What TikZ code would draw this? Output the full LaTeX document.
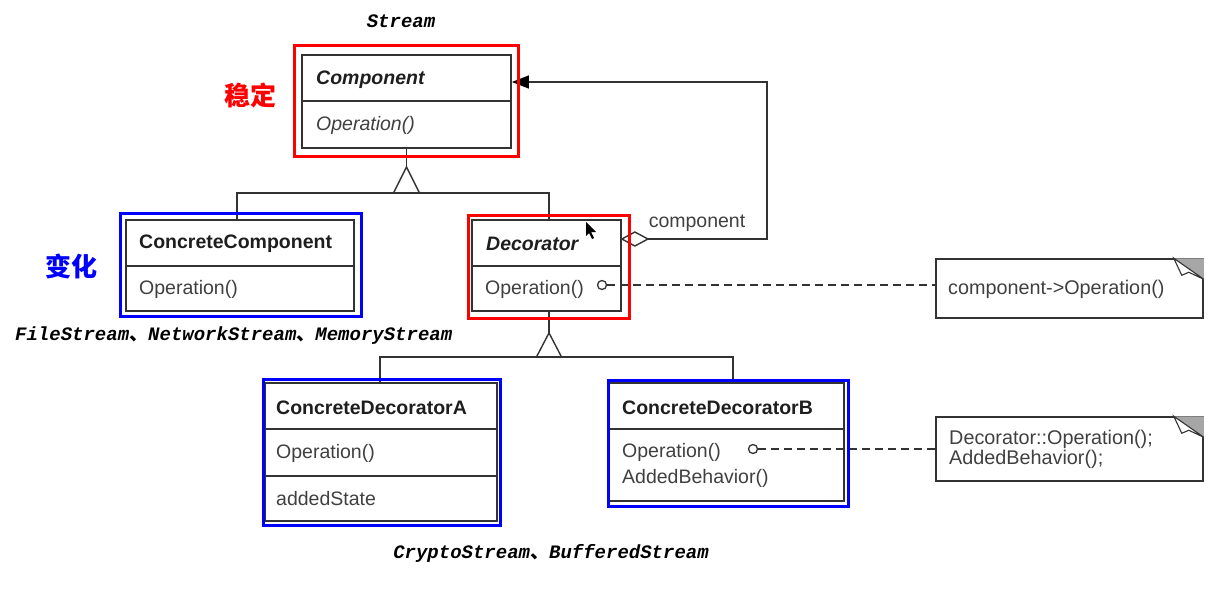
\documentclass[tikz,border=0pt]{standalone}
\usepackage{fontspec}
\setmainfont{Liberation Sans}
\newfontfamily\monof{Liberation Mono}
\newfontfamily\cjk{Noto Sans CJK SC}
\usetikzlibrary{arrows.meta,calc}
\definecolor{linec}{HTML}{333333}
\definecolor{titc}{HTML}{1E1E1E}
\definecolor{opc}{HTML}{404040}
\definecolor{hred}{HTML}{FF0000}
\definecolor{hblue}{HTML}{0000FF}
\tikzset{
  box/.style={draw=linec, line width=1.8pt, rectangle, inner sep=0pt},
  sep/.style={draw=linec, line width=1.8pt},
  conn/.style={draw=linec, line width=1.4pt},
  redframe/.style={draw=hred, line width=3pt},
  blueframe/.style={draw=hblue, line width=3pt},
  titl/.style={anchor=west, inner sep=0pt, text=titc, font=\fontsize{19.5}{22}\selectfont\bfseries},
  opl/.style={anchor=west, inner sep=0pt, text=opc, font=\fontsize{19.5}{22}\selectfont},
  notel/.style={anchor=west, inner sep=0pt, text=opc, align=left, font=\fontsize{19.8}{20}\selectfont},
  monol/.style={inner sep=0pt, text=black, font=\monof\bfseries\itshape\fontsize{19}{20}\selectfont},
  cjkl/.style={inner sep=0pt, font=\cjk\bfseries\fontsize{26}{28}\selectfont},
  lollipop/.style={draw=linec, line width=1.3pt, circle, minimum size=9pt, inner sep=0pt, fill=white},
  dashline/.style={draw=linec, line width=1.4pt, dash pattern=on 8pt off 5pt}
}
\begin{document}
\begin{tikzpicture}[x=1pt,y=-1pt]
\useasboundingbox (0,0) rectangle (1217,589);
\fill[white] (0,0) rectangle (1217,589);

% class boxes
\node[box, minimum width=209pt, minimum height=93pt] (comp) at (406.5,101.5) {};
\draw[sep] (302,101) -- (511,101);
\node[titl, font=\fontsize{19.5}{22}\selectfont\bfseries\itshape] (compt) at (316,79.5) {Component};
\node[opl, font=\fontsize{19.5}{22}\selectfont\itshape] (compo) at (316,125) {Operation()};

\node[box, minimum width=228pt, minimum height=91pt] (cc) at (240,265.5) {};
\draw[sep] (126,266) -- (354,266);
\node[titl] (cct) at (139,243.5) {ConcreteComponent};
\node[opl] (cco) at (139,289) {Operation()};

\node[box, minimum width=149pt, minimum height=91pt] (dec) at (546.5,265.5) {};
\draw[sep] (472,266) -- (621,266);
\node[titl, font=\fontsize{19.5}{22}\selectfont\bfseries\itshape] (dect) at (486,243.5) {Decorator};
\node[opl] (deco) at (485,289) {Operation()};

\node[box, minimum width=232pt, minimum height=138pt] (cda) at (381,452) {};
\draw[sep] (265,429) -- (497,429);
\draw[sep] (265,476) -- (497,476);
\node[titl] (cdat) at (276,407.5) {ConcreteDecoratorA};
\node[opl] (cdao) at (276,453) {Operation()};
\node[opl] (cdas) at (276,499) {addedState};

\node[box, minimum width=235pt, minimum height=118pt] (cdb) at (726.5,442) {};
\draw[sep] (609,429) -- (844,429);
\node[titl] (cdbt) at (622,407.5) {ConcreteDecoratorB};
\node[opl] (cdbo) at (622,452) {Operation()};
\node[opl] (cdbb) at (622,478) {AddedBehavior()};

% notes
\node[box, line width=1.5pt, minimum width=267pt, minimum height=59pt] (n1) at (1069.5,288.5) {};
\node[notel] (n1t) at (948,289) {component->Operation()};
\node[box, line width=1.5pt, minimum width=267pt, minimum height=64pt] (n2) at (1069.5,449) {};
\node[notel] (n2t) at (949,449) {Decorator::Operation();\\AddedBehavior();};
\foreach \n in {n1,n2}{
  \fill[gray!70] (\n.north east) ++(-30,0) -- (\n.north east) -- ++(0,21) -- cycle;
  \draw[draw=linec, line width=1.1pt, fill=white] (\n.north east) ++(-30,0) -- ++(8,17) -- ++(7,-3) -- ++(15,7) -- cycle;
}

% generalization Component
\coordinate (g1) at (406.5,167);
\coordinate (gb1) at (406.5,193);
\coordinate (ccn) at ($(cc.north)+(-3,0)$);
\coordinate (decn) at ($(dec.north)+(2.5,0)$);
\draw[conn] (comp.south) -- (g1);
\draw[conn, fill=white] (g1) -- ($(gb1)+(-13,0)$) -- ($(gb1)+(13,0)$) -- cycle;
\draw[conn] (ccn) -- (ccn |- gb1) -- (decn |- gb1) -- (decn);

% generalization Decorator
\coordinate (decs) at ($(dec.south)+(2.5,0)$);
\coordinate (g2) at ($(decs)+(0,21)$);
\coordinate (gb2) at ($(decs)+(0,45)$);
\draw[conn] (decs) -- (g2);
\draw[conn, fill=white] (g2) -- ($(gb2)+(-12.5,0)$) -- ($(gb2)+(12.5,0)$) -- cycle;
\coordinate (cdan) at ($(cda.north)+(-1,0)$);
\coordinate (cdbn) at ($(cdb.north)+(6.5,0)$);
\draw[conn] (cdan) -- (cdan |- gb2) -- (cdbn |- gb2) -- (cdbn);

% aggregation
\coordinate (ya) at (0,239);
\coordinate (yb) at (0,82);
\draw[conn, fill=white] (dec.east |- ya) -- ++(13,-7) -- ++(13,7) -- ++(-13,7) -- cycle;
\draw[conn, -{Triangle[length=17pt,width=13pt,color=black]}] (dec.east |- ya) ++(26,0) -- ++(119,0) |- (comp.east |- yb);
\node[opl, anchor=center] (agl) at (697,223) {component};

% notes links
\node[lollipop] (c1) at (602,285) {};
\draw[dashline] (c1.east) -- (c1.east -| n1.west);
\node[lollipop] (c2) at (753,449) {};
\draw[dashline] (c2.east) -- (c2.east -| n2.west);

% highlight frames (drawn over the connectors)
\draw[redframe] (294,45) rectangle (518,156);
\draw[blueframe] (120,213) rectangle (361,316);
\draw[redframe] (468,215) rectangle (629,318);
\draw[blueframe] (263,379) rectangle (500,525);
\draw[blueframe] (608,380) rectangle (848,506);

% mouse cursor
\fill[black] (586,222) -- (586,236) -- (589,233) -- (592,239) -- (594,238) -- (591,232) -- (596,232) -- cycle;

% labels
\node[monol] (lstream) at (401,21) {Stream};
\node[monol, anchor=west] (lconc) at (15,336) {FileStream{\cjk 、}NetworkStream{\cjk 、}MemoryStream};
\node[monol] (ldeco) at (551,553) {CryptoStream{\cjk 、}BufferedStream};
\node[cjkl, text=hred] (lstable) at (250,95) {稳定};
\node[cjkl, text=hblue] (lchange) at (71,266) {变化};
\end{tikzpicture}
\end{document}
